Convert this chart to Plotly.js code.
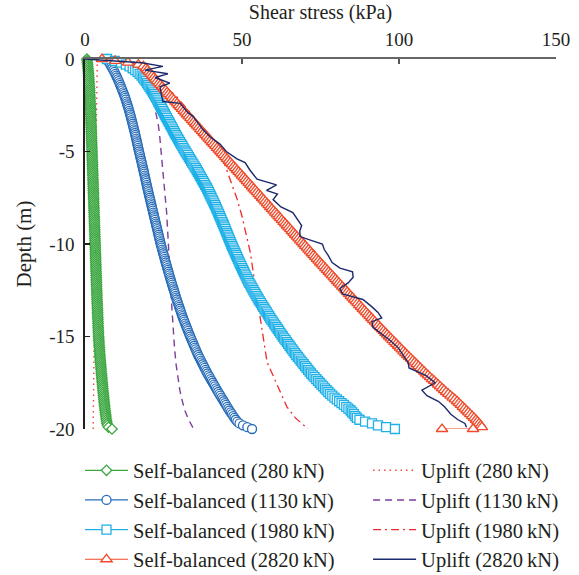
<!DOCTYPE html>
<html>
<head>
<meta charset="utf-8">
<script src="https://cdn.plot.ly/plotly-3.0.1.min.js"></script>
<style>
  html, body { margin: 0; padding: 0; background: #ffffff; }
  #chart { width: 579px; height: 575px; }
</style>
</head>
<body>
<div id="chart"></div>
<script>
// Depth (m) along the pile, sampled every 0.1 m for the self-balanced test series
const DEPTH = [
  0,-0.1,-0.2,-0.3,-0.4,-0.5,-0.6,-0.7,-0.8,-0.9,-1,
  -1.1,-1.2,-1.3,-1.4,-1.5,-1.6,-1.7,-1.8,-1.9,-2,
  -2.1,-2.2,-2.3,-2.4,-2.5,-2.6,-2.7,-2.8,-2.9,-3,
  -3.1,-3.2,-3.3,-3.4,-3.5,-3.6,-3.7,-3.8,-3.9,-4,
  -4.1,-4.2,-4.3,-4.4,-4.5,-4.6,-4.7,-4.8,-4.9,-5,
  -5.1,-5.2,-5.3,-5.4,-5.5,-5.6,-5.7,-5.8,-5.9,-6,
  -6.1,-6.2,-6.3,-6.4,-6.5,-6.6,-6.7,-6.8,-6.9,-7,
  -7.1,-7.2,-7.3,-7.4,-7.5,-7.6,-7.7,-7.8,-7.9,-8,
  -8.1,-8.2,-8.3,-8.4,-8.5,-8.6,-8.7,-8.8,-8.9,-9,
  -9.1,-9.2,-9.3,-9.4,-9.5,-9.6,-9.7,-9.8,-9.9,-10,
  -10.1,-10.2,-10.3,-10.4,-10.5,-10.6,-10.7,-10.8,-10.9,-11,
  -11.1,-11.2,-11.3,-11.4,-11.5,-11.6,-11.7,-11.8,-11.9,-12,
  -12.1,-12.2,-12.3,-12.4,-12.5,-12.6,-12.7,-12.8,-12.9,-13,
  -13.1,-13.2,-13.3,-13.4,-13.5,-13.6,-13.7,-13.8,-13.9,-14,
  -14.1,-14.2,-14.3,-14.4,-14.5,-14.6,-14.7,-14.8,-14.9,-15,
  -15.1,-15.2,-15.3,-15.4,-15.5,-15.6,-15.7,-15.8,-15.9,-16,
  -16.1,-16.2,-16.3,-16.4,-16.5,-16.6,-16.7,-16.8,-16.9,-17,
  -17.1,-17.2,-17.3,-17.4,-17.5,-17.6,-17.7,-17.8,-17.9,-18,
  -18.1,-18.2,-18.3,-18.4,-18.5,-18.6,-18.7,-18.8,-18.9,-19,
  -19.1,-19.2,-19.3,-19.4,-19.5,-19.6,-19.7,-19.8,-19.9,-20
];

// Self-balanced test, shear stress (kPa) at each depth
const sb280 = [
  0.60,0.68,0.75,0.82,0.88,0.94,1.00,1.05,1.10,1.15,1.20,
  1.24,1.28,1.32,1.36,1.40,1.44,1.47,1.50,1.53,1.56,
  1.59,1.62,1.65,1.68,1.71,1.74,1.77,1.79,1.81,1.83,
  1.85,1.87,1.89,1.91,1.93,1.95,1.97,1.99,2.01,2.03,
  2.05,2.07,2.09,2.11,2.13,2.15,2.17,2.19,2.21,2.23,
  2.25,2.27,2.29,2.31,2.33,2.35,2.37,2.39,2.41,2.43,
  2.45,2.47,2.49,2.51,2.53,2.55,2.57,2.59,2.61,2.63,
  2.65,2.67,2.69,2.71,2.73,2.75,2.77,2.79,2.81,2.83,
  2.85,2.87,2.89,2.91,2.93,2.95,2.97,2.99,3.01,3.03,
  3.05,3.07,3.09,3.11,3.13,3.15,3.17,3.19,3.21,3.23,
  3.25,3.27,3.29,3.31,3.33,3.35,3.37,3.39,3.41,3.43,
  3.45,3.47,3.49,3.51,3.53,3.55,3.57,3.59,3.61,3.63,
  3.65,3.67,3.69,3.71,3.73,3.75,3.77,3.79,3.81,3.83,
  3.85,3.88,3.90,3.93,3.95,3.98,4.00,4.03,4.05,4.08,
  4.10,4.13,4.15,4.18,4.20,4.23,4.25,4.28,4.30,4.33,
  4.37,4.41,4.45,4.49,4.53,4.57,4.61,4.65,4.69,4.73,
  4.78,4.83,4.88,4.93,4.98,5.03,5.08,5.13,5.18,5.23,
  5.28,5.33,5.39,5.44,5.50,5.55,5.61,5.66,5.72,5.78,
  5.84,5.90,5.96,6.02,6.08,6.14,6.20,6.27,6.34,6.41,
  6.48,6.56,6.64,6.72,6.80,6.90,7.00,7.15,7.50,8.60
];
const sb1130 = [
  7.00,7.35,7.70,8.05,8.40,8.72,9.04,9.35,9.65,9.93,10.20,
  10.46,10.72,10.97,11.21,11.45,11.68,11.91,12.14,12.37,12.60,
  12.79,12.98,13.17,13.36,13.54,13.72,13.89,14.06,14.23,14.40,
  14.55,14.70,14.85,15.00,15.15,15.30,15.45,15.60,15.75,15.90,
  16.03,16.16,16.29,16.42,16.55,16.68,16.81,16.94,17.07,17.20,
  17.34,17.48,17.62,17.76,17.90,18.04,18.18,18.32,18.46,18.60,
  18.73,18.86,18.99,19.12,19.25,19.38,19.51,19.64,19.77,19.90,
  20.04,20.18,20.32,20.46,20.60,20.74,20.88,21.02,21.16,21.30,
  21.44,21.58,21.72,21.86,22.00,22.14,22.28,22.42,22.56,22.70,
  22.84,22.98,23.12,23.26,23.40,23.54,23.68,23.82,23.96,24.10,
  24.26,24.42,24.58,24.74,24.90,25.06,25.22,25.38,25.54,25.70,
  25.87,26.04,26.21,26.38,26.55,26.72,26.89,27.06,27.23,27.40,
  27.58,27.76,27.94,28.12,28.30,28.48,28.66,28.84,29.02,29.20,
  29.40,29.60,29.80,30.00,30.20,30.40,30.60,30.80,31.00,31.20,
  31.43,31.66,31.89,32.12,32.35,32.58,32.81,33.04,33.27,33.50,
  33.75,34.00,34.25,34.50,34.75,35.00,35.25,35.50,35.75,36.00,
  36.30,36.60,36.90,37.20,37.50,37.80,38.10,38.40,38.70,39.00,
  39.34,39.68,40.02,40.36,40.70,41.04,41.38,41.72,42.06,42.40,
  42.76,43.12,43.48,43.84,44.20,44.56,44.92,45.28,45.64,46.00,
  46.40,46.80,47.20,47.60,48.00,48.50,49.20,50.30,51.70,53.20
];
const sb1980 = [
  7.00,9.50,11.50,13.00,14.20,15.20,16.00,16.75,17.40,18.00,18.50,
  18.93,19.35,19.76,20.16,20.55,20.93,21.30,21.66,22.02,22.38,
  22.70,23.02,23.33,23.64,23.94,24.24,24.54,24.84,25.14,25.44,
  25.76,26.08,26.40,26.72,27.04,27.36,27.68,28.00,28.30,28.60,
  28.94,29.28,29.62,29.96,30.30,30.64,30.98,31.32,31.66,32.00,
  32.36,32.72,33.08,33.44,33.80,34.16,34.52,34.88,35.24,35.60,
  35.93,36.26,36.59,36.92,37.25,37.58,37.91,38.24,38.57,38.90,
  39.18,39.46,39.74,40.02,40.30,40.58,40.86,41.14,41.42,41.70,
  41.95,42.20,42.45,42.70,42.95,43.20,43.45,43.70,43.95,44.20,
  44.44,44.68,44.92,45.16,45.40,45.64,45.88,46.12,46.36,46.60,
  46.86,47.12,47.38,47.64,47.90,48.16,48.42,48.68,48.94,49.20,
  49.48,49.76,50.04,50.32,50.60,50.88,51.16,51.44,51.72,52.00,
  52.33,52.66,52.99,53.32,53.65,53.98,54.31,54.64,54.97,55.30,
  55.67,56.04,56.41,56.78,57.15,57.52,57.89,58.26,58.63,59.00,
  59.40,59.80,60.20,60.60,61.00,61.40,61.80,62.20,62.60,63.00,
  63.43,63.86,64.29,64.72,65.15,65.58,66.01,66.44,66.87,67.30,
  67.77,68.24,68.71,69.18,69.65,70.12,70.59,71.06,71.53,72.00,
  72.55,73.10,73.65,74.20,74.75,75.30,75.85,76.40,76.95,77.50,
  78.10,78.75,79.45,80.20,80.95,81.70,82.45,83.20,83.90,84.60,
  85.10,85.60,86.10,86.60,87.40,89.20,91.40,93.30,95.90,98.70
];
// the 2820 kN record closes with one extra reading at the pile toe
const sb2820Depth = DEPTH.concat([-20]);
const sb2820 = [
  5.40,9.60,13.70,17.00,18.60,19.40,19.90,20.40,20.90,21.40,21.90,
  22.43,22.96,23.49,24.02,24.55,25.08,25.61,26.14,26.67,27.20,
  27.73,28.26,28.79,29.32,29.85,30.38,30.91,31.44,31.97,32.50,
  33.03,33.56,34.09,34.62,35.15,35.68,36.21,36.74,37.27,37.80,
  38.33,38.86,39.39,39.92,40.45,40.98,41.51,42.04,42.57,43.10,
  43.63,44.16,44.69,45.22,45.75,46.28,46.81,47.34,47.87,48.40,
  48.93,49.46,49.99,50.52,51.05,51.58,52.11,52.64,53.17,53.70,
  54.23,54.76,55.29,55.82,56.35,56.88,57.41,57.94,58.47,59.00,
  59.53,60.06,60.59,61.12,61.65,62.18,62.71,63.24,63.77,64.30,
  64.83,65.36,65.89,66.42,66.95,67.48,68.01,68.54,69.07,69.60,
  70.13,70.66,71.19,71.72,72.25,72.78,73.31,73.84,74.37,74.90,
  75.44,75.98,76.52,77.06,77.60,78.14,78.68,79.22,79.76,80.30,
  80.84,81.38,81.92,82.46,83.00,83.54,84.08,84.62,85.16,85.70,
  86.25,86.80,87.35,87.90,88.45,89.00,89.55,90.10,90.65,91.20,
  91.76,92.32,92.88,93.44,94.00,94.56,95.12,95.68,96.24,96.80,
  97.38,97.96,98.54,99.12,99.70,100.28,100.86,101.44,102.02,102.60,
  103.20,103.80,104.40,105.00,105.60,106.20,106.80,107.40,108.00,108.60,
  109.24,109.88,110.52,111.16,111.80,112.44,113.08,113.72,114.36,115.00,
  115.70,116.40,117.10,117.80,118.50,119.10,119.70,120.30,120.90,121.50,
  122.10,122.70,123.30,123.90,124.50,125.00,125.50,126.00,126.40,123.60,
  113.70
];

// Uplift test, shear stress (kPa) with their own depth readings
const up280Depth  = [0, -2, -5, -8, -10, -12, -15, -18, -20];
const up280       = [3.9, 3.7, 3.5, 3.4, 3.3, 3.2, 3.0, 2.8, 2.6];
const up1130Depth = [0,-0.5,-1,-1.7,-2,-3,-3.5,-4,-5,-6.2,-7,-8.3,-9.6,-11,-12,-13,-14,-15,-15.6,-16.5,-17,-17.9,-18.5,-19,-19.5,-19.9,-20];
const up1130      = [9,14.5,17.8,20.7,21.4,22.8,23.3,23.7,24.3,24.9,25.3,26.0,26.5,26.9,27.2,27.5,27.8,28.2,28.5,29.0,29.4,30.2,31.0,31.8,33.0,34.2,34.6];
const up1980Depth = [0,-0.5,-1,-2,-3,-4,-4.9,-5.6,-6.2,-7.2,-7.6,-8.5,-9.6,-10.5,-11.8,-12.9,-13.4,-14,-15.2,-16.4,-17,-17.8,-18.8,-19.4,-19.9,-20];
const up1980      = [12,18,22,29,34,38.5,42.8,44.3,45.5,47.6,48.5,50.0,51.6,52.7,53.8,54.8,55.2,55.8,56.8,58.0,59.6,61.6,64.3,67.0,70.4,71];
const up2820Depth = [0,-0.1,-0.2,-0.4,-0.6,-0.8,-1.0,-1.3,-1.5,-1.9,-2.3,-2.4,-2.9,-3.1,-3.5,-3.8,-4.2,-4.6,-5.0,-5.4,
  -5.6,-6.0,-6.5,-6.8,-7.1,-7.3,-7.6,-8.0,-8.3,-8.6,-9.0,-9.3,-9.6,-9.8,-10.0,-10.3,-10.6,-11.0,-11.3,-11.5,
  -11.8,-12.1,-12.4,-12.7,-13.0,-13.4,-13.7,-14.0,-14.2,-14.5,-14.8,-15.2,-15.6,-15.9,-16.4,-16.7,-16.9,-17.1,-17.5,-17.9,
  -18.2,-18.5,-18.8,-19.2,-19.5,-19.7,-19.9];
const up2820      = [0,10,18,24.8,19.1,26.4,22.3,27.0,23.9,24.3,24.8,30.3,32.8,34.4,36.2,37.5,39.8,43.0,45.0,48.4,
  51.0,52.5,54.8,61.0,57.8,61.3,59.9,62.4,66.2,67.5,69.0,68.4,68.5,72.0,75.6,76.2,77.4,78.7,81.2,85.2,
  85.4,83.8,81.2,82.0,88.5,91.4,93.3,94.5,91.4,91.7,94.0,97.1,99.7,101.0,102.9,103.2,105.7,108.5,111.5,107.3,
  108.9,112.5,114.5,116.5,118.8,121.0,121.5];

const X_TICKS = [0, 50, 100, 150];
const Y_TICKS = [0, -5, -10, -15, -20];
const Y_TICK_TEXT = ['0', '-5', '-10', '-15', '-20'];

const TS = '\u2009';
const FONT = 'Liberation Serif, Times New Roman, serif';
const INK = '#231f20';

function selfBalanced(name, x, y, color, symbol, size) {
  return {
    type: 'scatter', mode: 'lines+markers', name: name, x: x, y: y,
    legend: 'legend', cliponaxis: false,
    line: { color: color, width: 1.2 },
    marker: { symbol: symbol, size: size, color: '#ffffff', line: { color: color, width: 1.3 } }
  };
}
function uplift(name, x, y, color, dash, width) {
  return {
    type: 'scatter', mode: 'lines', name: name, x: x, y: y,
    legend: 'legend2', cliponaxis: false,
    line: { color: color, width: width, dash: dash }
  };
}

const data = [
  uplift('Uplift (280' + TS + 'kN)', up280, up280Depth, '#f2453d', '1.5px,4px', 1.4),
  uplift('Uplift (1130' + TS + 'kN)', up1130, up1130Depth, '#7c3f9e', '7px,5px', 1.4),
  uplift('Uplift (1980' + TS + 'kN)', up1980, up1980Depth, '#ec2a2e', '8px,4px,2px,4px', 1.3),
  selfBalanced('Self-balanced (280' + TS + 'kN)', sb280, DEPTH, '#3aa63f', 'diamond', 8),
  selfBalanced('Self-balanced (1130' + TS + 'kN)', sb1130, DEPTH, '#276cb8', 'circle', 9),
  selfBalanced('Self-balanced (1980' + TS + 'kN)', sb1980, DEPTH, '#1fb0e8', 'square', 9),
  selfBalanced('Self-balanced (2820' + TS + 'kN)', sb2820, sb2820Depth, '#ef4a2a', 'triangle-up', 10),
  uplift('Uplift (2820' + TS + 'kN)', up2820, up2820Depth, '#1b2a6b', 'solid', 1.4)
];

const legendBase = {
  orientation: 'v', xanchor: 'left', yanchor: 'top',
  itemwidth: 43, traceorder: 'normal',
  bgcolor: 'rgba(0,0,0,0)', borderwidth: 0,
  font: { family: FONT, size: 20.5, color: INK }
};

const layout = {
  width: 579, height: 575,
  margin: { l: 85, r: 23, t: 59, b: 146, autoexpand: false },
  paper_bgcolor: '#ffffff', plot_bgcolor: '#ffffff',
  font: { family: FONT, size: 19, color: INK },
  showlegend: true,
  xaxis: {
    side: 'top', range: [0, 150], tickvals: X_TICKS,
    ticks: 'inside', ticklen: 5, tickwidth: 1.5, tickcolor: '#555555',
    showline: true, linecolor: '#666666', linewidth: 1.6,
    showgrid: false, zeroline: false, ticklabelstandoff: 4,
    tickfont: { family: FONT, size: 19, color: INK },
    title: { text: 'Shear stress (kPa)', font: { family: FONT, size: 20, color: INK }, standoff: 4 }
  },
  yaxis: {
    range: [-20, 0], tickvals: Y_TICKS, ticktext: Y_TICK_TEXT,
    ticks: 'inside', ticklen: 5, tickwidth: 1.5, tickcolor: INK,
    showline: true, linecolor: INK, linewidth: 1.6,
    showgrid: false, zeroline: false, ticklabelstandoff: 5,
    tickfont: { family: FONT, size: 19, color: INK },
    title: { text: 'Depth (m)', font: { family: FONT, size: 21, color: INK }, standoff: 12 }
  },
  legend: Object.assign({}, legendBase, { x: -0.0106, y: -0.058 }),
  legend2: Object.assign({}, legendBase, { x: 0.601, y: -0.058 })
};

Plotly.newPlot('chart', data, layout, { displayModeBar: false, staticPlot: true });
</script>
</body>
</html>
